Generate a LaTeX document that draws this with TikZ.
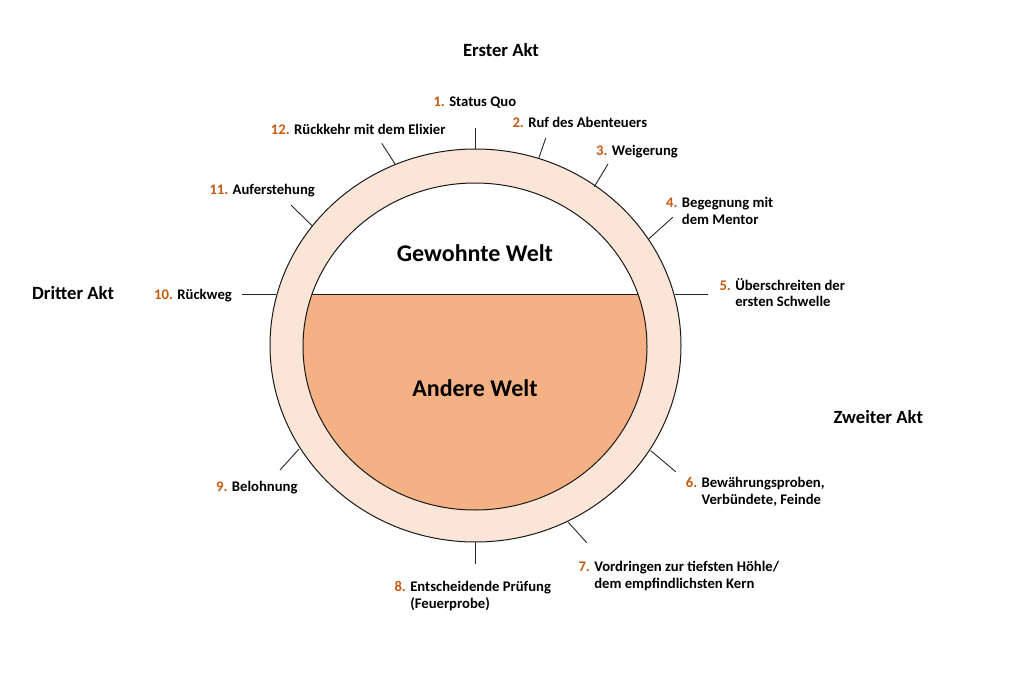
\documentclass[tikz,border=0pt]{standalone}
\usepackage{fontspec}
\setmainfont{Carlito}
\definecolor{ringc}{HTML}{FBE5D6}
\definecolor{otherc}{HTML}{F4B183}
\definecolor{numc}{HTML}{C55A11}
\newcommand{\stepno}[1]{\textcolor{numc}{#1}}
\begin{document}
\begin{tikzpicture}[x=1pt,y=-1pt,
  lbl/.style={font=\fontsize{14.67}{16.7}\selectfont\bfseries, inner sep=0pt, anchor=base west, align=left},
  act/.style={font=\fontsize{18.67}{22}\selectfont\bfseries, inner sep=0pt, anchor=base},
  world/.style={font=\fontsize{24}{28}\selectfont\bfseries, inner sep=0pt, anchor=base},
  tickline/.style={line width=0.9pt, draw=black!85},
  outline/.style={line width=1pt, draw=black!90}
]
\useasboundingbox (0,0) rectangle (1025,674);
% ring and worlds
\fill[ringc] (475.5,345.5) ellipse [x radius=205.5pt, y radius=196.5pt];
\fill[white] (475,346.5) ellipse [x radius=172pt, y radius=163.5pt];
\begin{scope}
  \clip (0,294) rectangle (1025,674);
  \fill[otherc] (475,346.5) ellipse [x radius=172pt, y radius=163.5pt];
\end{scope}
\draw[outline] (475.5,345.5) ellipse [x radius=205.5pt, y radius=196.5pt];
\draw[outline] (475,346.5) ellipse [x radius=172pt, y radius=163.5pt];
\coordinate (wl) at (312.1,294.3);
\coordinate (wr) at (637.9,294.3);
\draw[outline] (wl) -- (wr);

\node[world] (gw) at (475,261.5) {Gewohnte Welt};
\node[world] (aw) at (475,396.7) {Andere Welt};

% acts
\node[act] (a1) at (501,56.7) {Erster Akt};
\node[act, anchor=base west] (a3) at (32,299) {Dritter Akt};
\node[act, anchor=base west] (a2) at (833.3,423.3) {Zweiter Akt};

% tick coordinates (inner = on outer ellipse, outer = free end)
\coordinate (t1i) at (475,149);   \coordinate (t1o) at (475,128);
\coordinate (t2i) at (538.7,158.3); \coordinate (t2o) at (545.7,138.3);
\coordinate (t3i) at (594.3,186.7); \coordinate (t3o) at (608,164);
\coordinate (t4i) at (648.3,239.3); \coordinate (t4o) at (672.7,217.3);
\coordinate (t5i) at (674.5,294.3); \coordinate (t5o) at (708.3,294.3);
\coordinate (t6i) at (650.7,450.7); \coordinate (t6o) at (675.7,471.7);
\coordinate (t7i) at (568.3,522.3); \coordinate (t7o) at (586.7,542.7);
\coordinate (t8i) at (475,542);   \coordinate (t8o) at (475,564);
\coordinate (t9i) at (299,449);   \coordinate (t9o) at (280,470);
\coordinate (t10i) at (276,294.3); \coordinate (t10o) at (241.7,294.3);
\coordinate (t11i) at (312.3,226); \coordinate (t11o) at (291,205);
\coordinate (t12i) at (395.7,165); \coordinate (t12o) at (381.7,143.3);
\foreach \k in {1,...,12} { \draw[tickline] (t\k i) -- (t\k o); }

% stage labels (multi-line nodes: base = last line)
\node[lbl] (s1) at (433.3,106.7) {\stepno{1.} Status Quo};
\node[lbl] (s2) at (512.3,127.3) {\stepno{2.} Ruf des Abenteuers};
\node[lbl] (s3) at (596,155.7) {\stepno{3.} Weigerung};
\node[lbl] (s4) at (666,224) {\stepno{4.} Begegnung mit\\\phantom{4. }dem Mentor};
\node[lbl] (s5) at (719.3,306.7) {\stepno{5.} Überschreiten der\\\phantom{5. }ersten Schwelle};
\node[lbl] (s6) at (685.7,504) {\stepno{6.} Bewährungsproben,\\\phantom{6. }Verbündete, Feinde};
\node[lbl] (s7) at (578.3,588.3) {\stepno{7.} Vordringen zur tiefsten Höhle/\\\phantom{7. }dem empfindlichsten Kern};
\node[lbl] (s8) at (394.3,608) {\stepno{8.} Entscheidende Prüfung\\\phantom{8. }(Feuerprobe)};
\node[lbl] (s9) at (216,491) {\stepno{9.} Belohnung};
\node[lbl] (s10) at (154,299) {\stepno{10.} Rückweg};
\node[lbl] (s11) at (209.3,194) {\stepno{11.} Auferstehung};
\node[lbl] (s12) at (270.7,134.3) {\stepno{12.} Rückkehr mit dem Elixier};
\end{tikzpicture}
\end{document}
